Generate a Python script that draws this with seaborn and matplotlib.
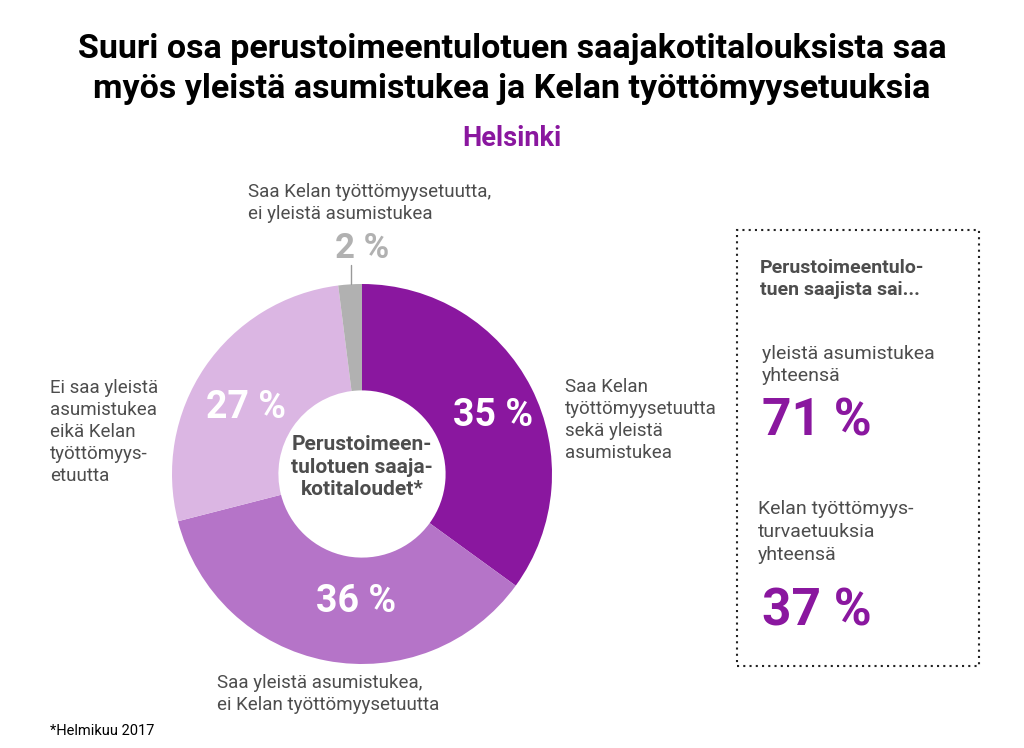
import matplotlib
matplotlib.use("Agg")
import matplotlib.pyplot as plt
import seaborn as sns
from matplotlib.patches import Rectangle
from matplotlib import font_manager

sns.set_theme(style="white")
names = {f.name for f in font_manager.fontManager.ttflist}
narrow = "Liberation Sans Narrow" if "Liberation Sans Narrow" in names else "Roboto"
plt.rcParams["font.family"] = [narrow, "DejaVu Sans"]

# Data
segments = ["Saa Kelan työttömyysetuutta sekä yleistä asumistukea",
            "Saa yleistä asumistukea, ei Kelan työttömyysetuutta",
            "Ei saa yleistä asumistukea eikä Kelan työttömyysetuutta",
            "Saa Kelan työttömyysetuutta, ei yleistä asumistukea"]
shares = [35, 36, 27, 2]
colors = ["#8a179f", "#b574c8", "#dbb6e3", "#b1b1b1"]
housing_total = 71
unemployment_total = 37

PURPLE = "#8a179f"
GREY_TXT = "#4d4d4d"

W, H = 1024, 748
fig = plt.figure(figsize=(W / 100, H / 100), dpi=100)


def px(x, y):
    return x / W, 1 - y / H


# Donut
cx, cy, r = 362, 474, 190
ax = fig.add_axes([(cx - r) / W, (H - cy - r) / H, 2 * r / W, 2 * r / H])
wedges, _ = ax.pie(shares, colors=colors, startangle=90, counterclock=False,
                   radius=1.0, wedgeprops=dict(width=0.56, linewidth=0))
ax.set_xlim(-1, 1)
ax.set_ylim(-1, 1)
ax.axis("off")

# Slice labels
label_pos = [(0.69, 0.31), (-0.03, -0.67), (-0.61, 0.35)]
for (x, y), v in zip(label_pos, shares[:3]):
    ax.text(x, y, f"{v} %", color="white", fontsize=27, fontweight="bold",
            ha="center", va="center")

# Leader line to the small slice
ax.plot([-0.06, -0.06], [1.0, 1.1], color="#999999", lw=1, clip_on=False)
fig.text(*px(362, 248), f"{shares[3]} %", color="#b1b1b1", fontsize=25,
         fontweight="bold", ha="center", va="center")

# Centre text
fig.text(*px(362, 467), "Perustoimeen-\ntulotuen saaja-\nkotitaloudet*", color=GREY_TXT,
         fontsize=15, fontweight="bold", ha="center", va="center", linespacing=1.25)

# Titles
fig.text(*px(512, 69), "Suuri osa perustoimeentulotuen saajakotitalouksista saa\n"
         "myös yleistä asumistukea ja Kelan työttömyysetuuksia",
         color="black", fontsize=24.5, fontweight="bold", ha="center", va="center",
         linespacing=1.35)
fig.text(*px(512, 138), "Helsinki", color=PURPLE, fontsize=19.5, fontweight="bold",
         ha="center", va="center")

# Segment labels
lab_kw = dict(color=GREY_TXT, fontsize=13.5, linespacing=1.3)
fig.text(*px(248, 203), "Saa Kelan työttömyysetuutta,\nei yleistä asumistukea",
         ha="left", va="center", **lab_kw)
fig.text(*px(565, 420), "Saa Kelan\ntyöttömyysetuutta\nsekä yleistä\nasumistukea",
         ha="left", va="center", **lab_kw)
fig.text(*px(50, 432), "Ei saa yleistä\nasumistukea\neikä Kelan\ntyöttömyys-\netuutta",
         ha="left", va="center", **lab_kw)
fig.text(*px(217, 694), "Saa yleistä asumistukea,\nei Kelan työttömyysetuutta",
         ha="left", va="center", **lab_kw)

# Side box
x0, y0, x1, y1 = 737, 230, 979, 666
fig.patches.append(Rectangle(px(x0, y1), (x1 - x0) / W, (y1 - y0) / H,
                             transform=fig.transFigure, fill=False,
                             edgecolor="#222222", lw=1.5, linestyle=(0, (1, 2))))
fig.text(*px(760, 279), "Perustoimeentulo-\ntuen saajista sai...", color=GREY_TXT,
         fontsize=14, fontweight="bold", ha="left", va="center", linespacing=1.35)
fig.text(*px(762, 365), "yleistä asumistukea\nyhteensä", color=GREY_TXT,
         fontsize=14, ha="left", va="center", linespacing=1.3)
fig.text(*px(762, 422), f"{housing_total} %", color=PURPLE, fontsize=37,
         fontweight="bold", ha="left", va="center")
fig.text(*px(758, 532), "Kelan työttömyys-\nturvaetuuksia\nyhteensä", color=GREY_TXT,
         fontsize=14, ha="left", va="center", linespacing=1.35)
fig.text(*px(762, 612), f"{unemployment_total} %", color=PURPLE, fontsize=37,
         fontweight="bold", ha="left", va="center")

# Footnote
fig.text(*px(50, 731), "*Helmikuu 2017", color="black", fontsize=10.5,
         ha="left", va="center")

fig.savefig("out.png", dpi=100, facecolor="white")
